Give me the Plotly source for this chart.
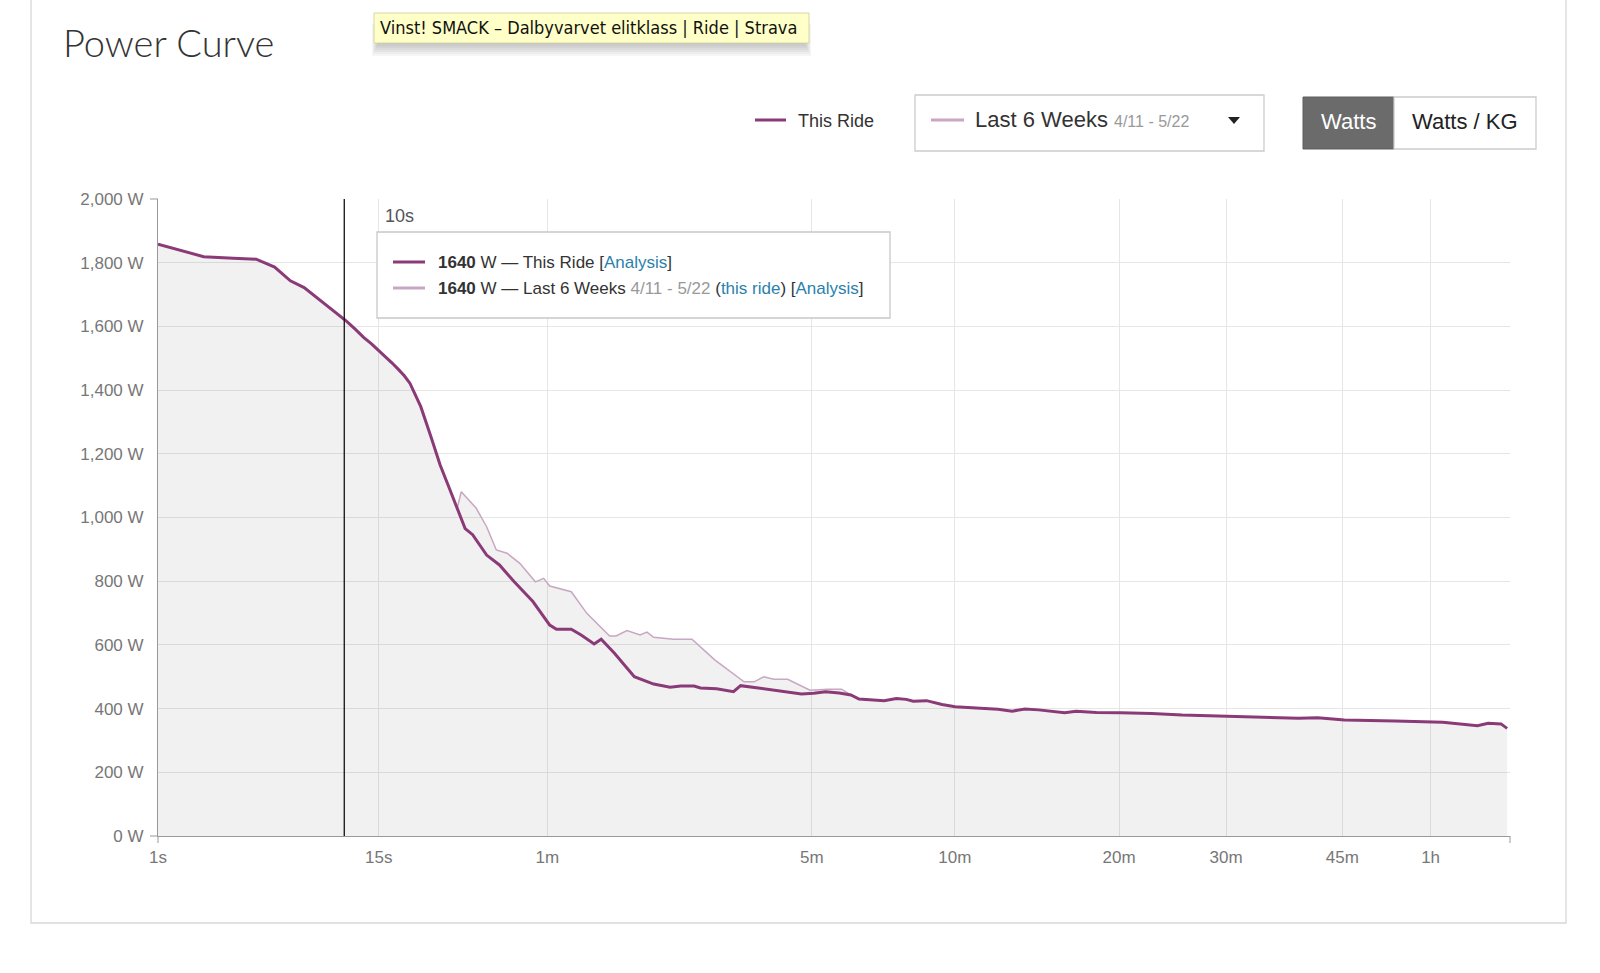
"""Strava power curve: this ride vs. last 6 weeks."""
import plotly.graph_objects as go

# --- Data (seconds, watts) ---
ride_seconds = [1, 2, 3, 4, 5, 6, 7, 8, 9, 10, 11, 12, 13, 14, 15, 16, 17, 18, 19, 20,
                22, 24, 26, 28, 30, 32, 34, 36, 38, 42, 47, 54, 61, 64, 71, 76, 83, 87,
                95, 108, 122, 135, 144, 156, 162, 178, 196, 204, 227, 255, 284, 303,
                322, 345, 366, 381, 431, 457, 479, 495, 527, 566, 601, 673, 727, 773,
                816, 865, 964, 1010, 1097, 1208, 1363, 1530, 1733, 1830, 2099, 2325,
                2485, 2720, 3213, 3741, 4166, 4305, 4477, 4560]
ride_watts = [1858, 1819, 1814, 1811, 1786, 1743, 1722, 1691, 1665, 1640, 1615, 1590,
              1565, 1545, 1525, 1505, 1485, 1465, 1445, 1421, 1348, 1255, 1165, 1095,
              1030, 965, 946, 915, 882, 851, 798, 736, 662, 649, 649, 631, 603, 618,
              574, 500, 477, 467, 471, 471, 465, 462, 453, 472, 464, 453, 446, 448,
              453, 449, 443, 430, 425, 432, 429, 423, 425, 413, 406, 401, 398, 392,
              399, 396, 387, 392, 388, 387, 385, 380, 377, 375, 373, 370, 371, 364,
              361, 357, 346, 354, 352, 338]

# Last 6 weeks only differs from this ride between ~28s and ~6m
weeks_seconds_diff = [31, 35, 38, 41, 44.5, 49, 55, 58.4, 61, 71, 79, 92, 96, 103, 112,
                      117, 122, 138, 154, 176, 208, 220, 232, 245, 264, 284, 297, 326, 349]
weeks_watts_diff = [1081, 1029, 971, 898, 888, 856, 798, 809, 785, 767, 699, 628, 628,
                    645, 631, 640, 624, 618, 618, 553, 484, 484, 500, 492, 492, 471, 458,
                    461, 461]

tick_seconds = [1, 15, 60, 300, 600, 1200, 1800, 2700, 3600]
tick_labels = ["1s", "15s", "1m", "5m", "10m", "20m", "30m", "45m", "1h"]
y_ticks = [0, 200, 400, 600, 800, 1000, 1200, 1400, 1600, 1800, 2000]

hover_seconds = 10
cursor_seconds = 10.7
x_max_seconds = 4600

RIDE_COLOR = "#8b3a78"
WEEKS_COLOR = "#c9a6c1"
LINK = "#2b7fab"
FONT = "Liberation Sans, Arial, sans-serif"

# Strava uses a power scale (t^0.2) on the duration axis
POW = 0.2


def sx(t):
    return t ** POW


lo, hi = weeks_seconds_diff[0], weeks_seconds_diff[-1]
weeks = [(t, w) for t, w in zip(ride_seconds, ride_watts) if t < lo or t > hi]
weeks += list(zip(weeks_seconds_diff, weeks_watts_diff))
weeks.sort()
weeks_seconds = [t for t, _ in weeks]
weeks_watts = [w for _, w in weeks]

hover_watts = ride_watts[ride_seconds.index(hover_seconds)]

# plot area in pixels
L, R, T, B = 158, 1510, 199, 836


def px(x):
    return (x - L) / (R - L)


def py(y):
    return (B - y) / (B - T)


fig = go.Figure()
fig.add_trace(go.Scatter(
    x=[sx(t) for t in weeks_seconds], y=weeks_watts, mode="lines",
    line=dict(color=WEEKS_COLOR, width=1.5), fill="tozeroy",
    fillcolor="rgba(0,0,0,0.055)", hoverinfo="skip", showlegend=False,
))
fig.add_trace(go.Scatter(
    x=[sx(t) for t in ride_seconds], y=ride_watts, mode="lines",
    line=dict(color=RIDE_COLOR, width=3), hoverinfo="skip", showlegend=False,
))

shapes = []
# cursor line
shapes.append(dict(type="line", xref="x", yref="paper", x0=sx(cursor_seconds),
                   x1=sx(cursor_seconds), y0=0, y1=1, line=dict(color="#111", width=1.3)))
# outer ticks of the axes
for yy in (0, 1):
    shapes.append(dict(type="line", xref="paper", yref="paper", x0=px(150), x1=0,
                       y0=yy, y1=yy, line=dict(color="#999", width=1)))
for xx in (0, 1):
    shapes.append(dict(type="line", xref="paper", yref="paper", x0=xx, x1=xx,
                       y0=0, y1=py(843), line=dict(color="#999", width=1)))
# card border
shapes.append(dict(type="path", xref="paper", yref="paper",
                   path=f"M {px(31)},{py(-5)} L {px(31)},{py(923)} L {px(1566)},{py(923)} "
                        f"L {px(1566)},{py(-5)}",
                   line=dict(color="#d8d8d8", width=1.3)))
# hover box
shapes.append(dict(type="rect", xref="paper", yref="paper", x0=px(377), x1=px(890),
                   y0=py(232), y1=py(318), fillcolor="white",
                   line=dict(color="#c8c8c8", width=1.3)))
shapes.append(dict(type="line", xref="paper", yref="paper", x0=px(393), x1=px(425),
                   y0=py(262), y1=py(262), line=dict(color=RIDE_COLOR, width=3)))
shapes.append(dict(type="line", xref="paper", yref="paper", x0=px(393), x1=px(425),
                   y0=py(288), y1=py(288), line=dict(color=WEEKS_COLOR, width=3)))
# browser tooltip with soft shadow (mostly below the box)
for i in range(7):
    d = 2 + i * 2
    shapes.append(dict(type="rect", xref="paper", yref="paper", x0=px(378 - i),
                       x1=px(805 + i), y0=py(24), y1=py(42 + d),
                       fillcolor="rgba(0,0,0,0.035)", line=dict(width=0)))
shapes.append(dict(type="rect", xref="paper", yref="paper", x0=px(374), x1=px(809),
                   y0=py(13), y1=py(43), fillcolor="#ffffc8",
                   line=dict(color="#d6d6a8", width=1)))
# legend / dropdown / buttons
shapes.append(dict(type="line", xref="paper", yref="paper", x0=px(755), x1=px(786),
                   y0=py(120), y1=py(120), line=dict(color=RIDE_COLOR, width=3)))
shapes.append(dict(type="rect", xref="paper", yref="paper", x0=px(915), x1=px(1264),
                   y0=py(95), y1=py(151), fillcolor="white",
                   line=dict(color="#cccccc", width=1.3)))
shapes.append(dict(type="line", xref="paper", yref="paper", x0=px(931), x1=px(964),
                   y0=py(120), y1=py(120), line=dict(color=WEEKS_COLOR, width=3)))
shapes.append(dict(type="path", xref="paper", yref="paper",
                   path=f"M {px(1228)},{py(117)} L {px(1240)},{py(117)} L {px(1234)},{py(124)} Z",
                   fillcolor="#222", line=dict(width=0)))
shapes.append(dict(type="rect", xref="paper", yref="paper", x0=px(1303), x1=px(1394),
                   y0=py(97), y1=py(149), fillcolor="#6b6b6b",
                   line=dict(color="#5f5f5f", width=1)))
shapes.append(dict(type="rect", xref="paper", yref="paper", x0=px(1394), x1=px(1536),
                   y0=py(97), y1=py(149), fillcolor="white",
                   line=dict(color="#cccccc", width=1.3)))

ann = []


def text(x, y, s, size, color="#333", anchor="left", family=FONT, weight=None):
    f = dict(family=family, size=size, color=color)
    if weight:
        f["weight"] = weight
    ann.append(dict(xref="paper", yref="paper", x=px(x), y=py(y), text=s,
                    showarrow=False, xanchor=anchor, yanchor="middle", font=f))


text(61, 42, "Power Curve", 38, "#333", family="Lato, " + FONT, weight=300)
text(378, 28, "Vinst! SMACK – Dalbyvarvet elitklass | Ride | Strava", 18, "#111",
     family="Liberation Sans Narrow, DejaVu Sans Condensed, " + FONT)
text(796, 121, "This Ride", 18)
text(973, 120, "Last 6 Weeks <span style='font-size:16px;color:#999'>4/11 - 5/22</span>", 22)
text(1348, 122, "Watts", 22, "white", anchor="center")
text(1465, 122, "Watts / KG", 22, "#222", anchor="center")
text(383, 216, f"{hover_seconds}s", 18, "#555")
text(436, 262, f"<b>{hover_watts}</b> W — This Ride "
     f"[<span style='color:{LINK}'>Analysis</span>]", 17)
text(436, 288, f"<b>{hover_watts}</b> W — Last 6 Weeks "
     f"<span style='color:#999'>4/11 - 5/22</span> "
     f"(<span style='color:{LINK}'>this ride</span>) "
     f"[<span style='color:{LINK}'>Analysis</span>]", 17)

fig.update_layout(
    width=1600, height=973,
    margin=dict(l=L, r=1600 - R, t=T, b=973 - B),
    paper_bgcolor="white", plot_bgcolor="white",
    font=dict(family=FONT, size=17, color="#777"),
    shapes=shapes, annotations=ann,
    xaxis=dict(
        range=[sx(1), sx(x_max_seconds)],
        tickvals=[sx(t) for t in tick_seconds], ticktext=tick_labels,
        showgrid=True, gridcolor="#e6e6e6", gridwidth=1.3,
        showline=True, linecolor="#999", linewidth=1,
        ticks="outside", ticklen=6, tickcolor="rgba(0,0,0,0)",
        zeroline=False, fixedrange=True,
    ),
    yaxis=dict(
        range=[0, 2000], tickvals=y_ticks,
        ticktext=[f"{v:,} W" for v in y_ticks],
        showgrid=True, gridcolor="#e6e6e6", gridwidth=1.3,
        showline=True, linecolor="#999", linewidth=1,
        ticks="outside", ticklen=10, tickcolor="rgba(0,0,0,0)",
        zeroline=False, fixedrange=True,
    ),
)

fig.write_html("out.html", config={"displayModeBar": False},
               post_script="document.body.style.margin='0';")
